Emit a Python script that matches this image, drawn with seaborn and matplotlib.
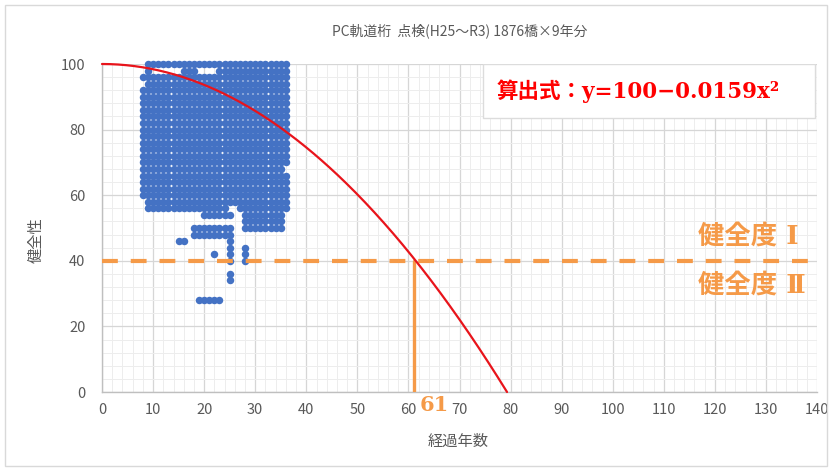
import numpy as np
import pandas as pd
import matplotlib
matplotlib.use("Agg")
import matplotlib.pyplot as plt
from matplotlib.ticker import MultipleLocator
from matplotlib.patches import Rectangle
import seaborn as sns

# Health score rows (even values) and the inspected ages (years) present in each row,
# given as inclusive (first, last) spans of integer ages.
health_levels = [100, 98, 96, 94, 92, 90, 88, 86, 84, 82, 80, 78, 76, 74, 72, 70,
                 68, 66, 64, 62, 60, 58, 56, 54, 52, 50, 48, 46, 44, 42, 40, 36, 34, 28]
age_spans = [
    [(9, 36)],
    [(9, 9), (16, 18), (23, 36)],
    [(8, 36)], [(9, 36)], [(8, 36)], [(8, 36)], [(8, 36)], [(8, 36)], [(8, 36)],
    [(8, 36)], [(8, 36)], [(8, 36)], [(8, 36)], [(8, 36)], [(8, 36)], [(8, 36)],
    [(8, 35)], [(8, 36)], [(8, 36)], [(8, 36)], [(8, 36)],
    [(9, 36)],
    [(9, 24), (27, 36)],
    [(20, 25), (28, 35)],
    [(28, 35)],
    [(18, 25), (28, 35)],
    [(18, 25)],
    [(15, 16), (25, 25)],
    [(25, 25), (28, 28)],
    [(22, 22), (25, 25), (28, 28)],
    [(25, 25), (28, 28)],
    [(25, 25)],
    [(25, 25)],
    [(19, 23)],
]

# Fitted deterioration curve: y = 100 - 0.0159 x^2
curve_intercept = 100
curve_coef = 0.0159
threshold_health = 40
limit_age = 61

title_text = "PC軌道桁  点検(H25～R3) 1876橋×9年分"
x_label = "経過年数"
y_label = "健全性"
formula_text = "算出式：y=100−0.0159x²"
grade_upper = "健全度 Ⅰ"
grade_lower = "健全度 Ⅱ"
x_ticks = list(range(0, 141, 10))
y_ticks = list(range(0, 101, 20))

ages, scores = [], []
for level, spans in zip(health_levels, age_spans):
    for first, last in spans:
        for a in range(first, last + 1):
            ages.append(a)
            scores.append(level)
points = pd.DataFrame({"age": ages, "health": scores})

x_end = np.sqrt(curve_intercept / curve_coef)
cx = np.linspace(0, x_end, 300)
curve = pd.DataFrame({"age": cx, "health": curve_intercept - curve_coef * cx ** 2})

sns.set_theme(style="white")
plt.rcParams["font.family"] = ["Noto Sans CJK JP", "DejaVu Sans"]

orange = "#F59A48"
blue = "#4472C4"
red = "#E8141B"
grey_text = "#595959"
serif_mix = ["DejaVu Serif", "Noto Sans CJK JP"]

fig = plt.figure(figsize=(8.32, 4.70), dpi=100)
ax = fig.add_axes([102 / 832, 1 - 392 / 470, 715 / 832, 328 / 470])

# light frame around the whole chart
fig.patches.append(Rectangle((5 / 832, 4 / 470), 822 / 832, 461 / 470,
                             transform=fig.transFigure, fill=False,
                             edgecolor="#d9d9d9", linewidth=1.0))

ax.set_xlim(0, 140)
ax.set_ylim(0, 100)
ax.set_xticks(x_ticks)
ax.set_yticks(y_ticks)
ax.xaxis.set_minor_locator(MultipleLocator(2))
ax.yaxis.set_minor_locator(MultipleLocator(4))
ax.grid(which="major", color="#d6d6d6", linewidth=0.9)
ax.grid(which="minor", color="#ededed", linewidth=0.7)
ax.set_axisbelow(True)
for side in ["top", "right"]:
    ax.spines[side].set_visible(False)
for side in ["left", "bottom"]:
    ax.spines[side].set_color("#bfbfbf")
    ax.spines[side].set_linewidth(1.0)
ax.tick_params(which="both", length=0, labelcolor=grey_text, labelsize=10.5)
ax.tick_params(axis="y", pad=12)
ax.tick_params(axis="x", pad=8)

sns.scatterplot(data=points, x="age", y="health", ax=ax, color=blue, s=29,
                linewidth=0, zorder=3, clip_on=False, legend=False)

sns.lineplot(data=curve, x="age", y="health", ax=ax, color=red, linewidth=1.6,
             zorder=5, clip_on=False, legend=False)

ax.axhline(threshold_health, color=orange, linewidth=3, linestyle=(0, (3.8, 3.1)),
           zorder=4)
ax.plot([limit_age, limit_age], [0, threshold_health], color=orange,
        linewidth=2.4, zorder=4)

ax.annotate(str(limit_age), xy=(limit_age, 0), xytext=(15, -9.5),
            textcoords="offset points", ha="center", va="center",
            color=orange, fontsize=15, fontweight="bold",
            family=serif_mix, annotation_clip=False)

ax.add_patch(Rectangle((0.533, 0.835), 0.464, 0.165, transform=ax.transAxes,
                       facecolor="white", edgecolor="#dcdcdc", linewidth=1.0,
                       zorder=6))
ax.text(0.552, 0.918, formula_text, transform=ax.transAxes, ha="left", va="center",
        color="#FF0000", fontsize=15.5, fontweight="bold",
        family=serif_mix, zorder=7)

ax.text(0.834, 0.476, grade_upper, transform=ax.transAxes, ha="left", va="center",
        color=orange, fontsize=19, fontweight="bold", family=serif_mix, zorder=7)
ax.text(0.834, 0.326, grade_lower, transform=ax.transAxes, ha="left", va="center",
        color=orange, fontsize=19, fontweight="bold", family=serif_mix, zorder=7)

ax.set_xlabel(x_label, color=grey_text, fontsize=11)
ax.set_ylabel(y_label, color=grey_text, fontsize=11)
ax.xaxis.set_label_coords(0.498, -0.125)
ax.yaxis.set_label_coords(-0.08, 0.463)

fig.text(460 / 832, 1 - 31 / 470, title_text, ha="center", va="center",
         color=grey_text, fontsize=10)

fig.savefig("out.png", dpi=100)
